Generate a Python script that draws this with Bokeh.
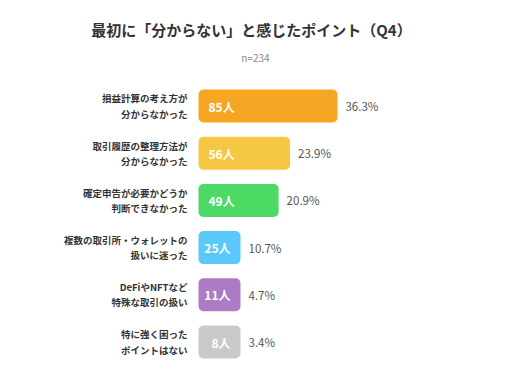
import numpy as np
from bokeh.plotting import figure
from bokeh.models import ColumnDataSource, Range1d, Label
from bokeh.core.properties import value
from bokeh.embed import file_html
from bokeh.resources import INLINE

# ---- data ----
categories = [
    "損益計算の考え方が\n分からなかった",
    "取引履歴の整理方法が\n分からなかった",
    "確定申告が必要かどうか\n判断できなかった",
    "複数の取引所・ウォレットの\n扱いに迷った",
    "DeFiやNFTなど\n特殊な取引の扱い",
    "特に強く困った\nポイントはない",
]
counts = [85, 56, 49, 25, 11, 8]
percents = [36.3, 23.9, 20.9, 10.7, 4.7, 3.4]
colors = ["#F5A623", "#F6C744", "#4CD964", "#5AC8FA", "#AD7AC4", "#C9C9C9"]
title_text = "最初に「分からない」と感じたポイント（Q4）"
subtitle_text = "n=234"

# ---- layout constants ----
W, H = 506, 378
SCALE = 1.635          # px per person
BAR_LEFT_PX = 198      # px where bars start
ROW_PX = 47.2
FIRST_ROW_PX = 105.5
MIN_BAR_PX = 42

x0 = -BAR_LEFT_PX / SCALE
x_range = Range1d(x0, x0 + W / SCALE)
y_top = -FIRST_ROW_PX / ROW_PX
y_bot = (H - FIRST_ROW_PX) / ROW_PX
y_range = Range1d(y_bot, y_top)

idx = np.arange(len(counts))
cnt = np.array(counts, dtype=float)
disp = np.maximum(cnt, MIN_BAR_PX / SCALE)

FONT_NAME = "Noto Sans CJK JP"
FONT = value(FONT_NAME)

p = figure(width=W, height=H, x_range=x_range, y_range=y_range,
           output_backend="svg", toolbar_location=None,
           min_border=0, outline_line_color=None)
p.axis.visible = False
p.grid.visible = False
p.background_fill_color = "white"
p.border_fill_color = "white"

src = ColumnDataSource(dict(
    y=idx, right=disp, color=colors,
    pct=[f"{v:.1f}%" for v in percents],
    pct_x=disp + 8 / SCALE,
    cat=categories,
))

p.hbar(y="y", left=0, right="right", height=33 / ROW_PX, fill_color="color",
       line_color=None, border_radius=5, source=src)

# count labels inside bars
big = [i for i in range(len(counts)) if counts[i] * SCALE > MIN_BAR_PX + 20]
small = [i for i in range(len(counts)) if i not in big]
src_big = ColumnDataSource(dict(
    x=[10 / SCALE] * len(big), y=[idx[i] for i in big],
    t=[f"{counts[i]}人" for i in big]))
src_small = ColumnDataSource(dict(
    x=[disp[i] - 10 / SCALE for i in small], y=[idx[i] for i in small],
    t=[f"{counts[i]}人" for i in small]))
p.text(x="x", y="y", text="t", source=src_big, text_align="left",
       text_baseline="middle", text_color="white", text_font=FONT,
       text_font_size="12px", text_font_style="bold")
p.text(x="x", y="y", text="t", source=src_small, text_align="right",
       text_baseline="middle", text_color="white", text_font=FONT,
       text_font_size="12px", text_font_style="bold")

# percent labels
p.text(x="pct_x", y="y", text="pct", source=src, text_align="left",
       text_baseline="middle", text_color="#555555", text_font=FONT,
       text_font_size="11.5px")

# category labels
src_cat = ColumnDataSource(dict(x=[-11 / SCALE] * len(categories), y=idx, t=categories))
p.text(x="x", y="y", text="t", source=src_cat, text_align="right",
       text_baseline="middle", text_color="#333333", text_font=FONT,
       text_font_size="9.5px", text_font_style="bold", text_line_height=1.1)

# title & subtitle
p.add_layout(Label(x=251, y=H - 29, x_units="screen", y_units="screen",
                   text=title_text, text_align="center", text_baseline="middle",
                   text_font=FONT_NAME, text_font_size="15px", text_font_style="bold",
                   text_color="#333333"))
p.add_layout(Label(x=255, y=H - 57, x_units="screen", y_units="screen",
                   text=subtitle_text, text_align="center", text_baseline="middle",
                   text_font=FONT_NAME, text_font_size="10px", text_color="#888888"))

open("out.html", "w").write(file_html(p, INLINE))
